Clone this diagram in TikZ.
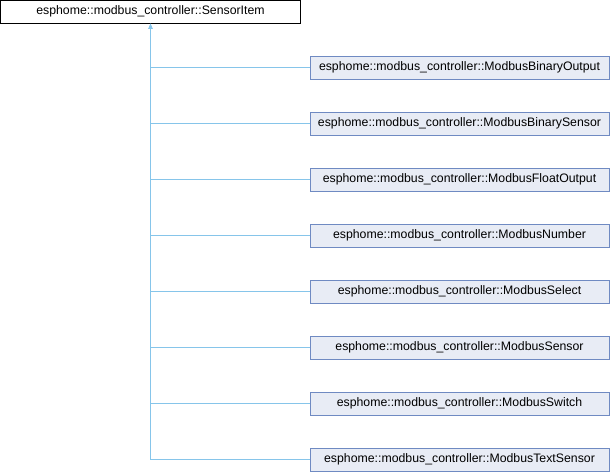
\documentclass[tikz,border=0pt]{standalone}
\usepackage{fontspec}
\setmainfont{Liberation Sans}
\usetikzlibrary{arrows.meta}
\usetikzlibrary{positioning}

\definecolor{edgeblue}{HTML}{86C5EA}
\definecolor{classfill}{HTML}{E8ECF5}
\definecolor{classdraw}{HTML}{6F8AC2}

\begin{document}
\begin{tikzpicture}[
	x=1pt, y=-1pt,
	> = {Latex[length=5pt,width=4pt]},
	base/.style = {draw=black, fill=white, line width=1pt, minimum width=299pt, minimum height=23pt, inner sep=0pt, font=\fontsize{12.3}{14}\selectfont},
	derived/.style = {base, draw=classdraw, fill=classfill},
	edge/.style = {->, draw=edgeblue, line width=1pt}
	]

	\useasboundingbox (0,0) rectangle (610,472);

	\node[base, minimum width=300pt] (sensoritem) at (150.5,11.5) {esphome::modbus\_controller::SensorItem};

	\node[derived] (binout) at (459.5,67.5) {esphome::modbus\_controller::ModbusBinaryOutput};
	\node[derived] (binsensor) at (459.5,123.5) {esphome::modbus\_controller::ModbusBinarySensor};
	\node[derived] (floatout) at (459.5,179.5) {esphome::modbus\_controller::ModbusFloatOutput};
	\node[derived] (number) at (459.5,235.5) {esphome::modbus\_controller::ModbusNumber};
	\node[derived] (select) at (459.5,291.5) {esphome::modbus\_controller::ModbusSelect};
	\node[derived] (sensor) at (459.5,347.5) {esphome::modbus\_controller::ModbusSensor};
	\node[derived] (switch) at (459.5,403.5) {esphome::modbus\_controller::ModbusSwitch};
	\node[derived] (textsensor) at (459.5,459.5) {esphome::modbus\_controller::ModbusTextSensor};

	\draw[edge] (textsensor.west) -| (sensoritem.south);
	\draw[edge] (switch.west) -| (sensoritem.south);
	\draw[edge] (sensor.west) -| (sensoritem.south);
	\draw[edge] (select.west) -| (sensoritem.south);
	\draw[edge] (number.west) -| (sensoritem.south);
	\draw[edge] (floatout.west) -| (sensoritem.south);
	\draw[edge] (binsensor.west) -| (sensoritem.south);
	\draw[edge] (binout.west) -| (sensoritem.south);

\end{tikzpicture}
\end{document}
